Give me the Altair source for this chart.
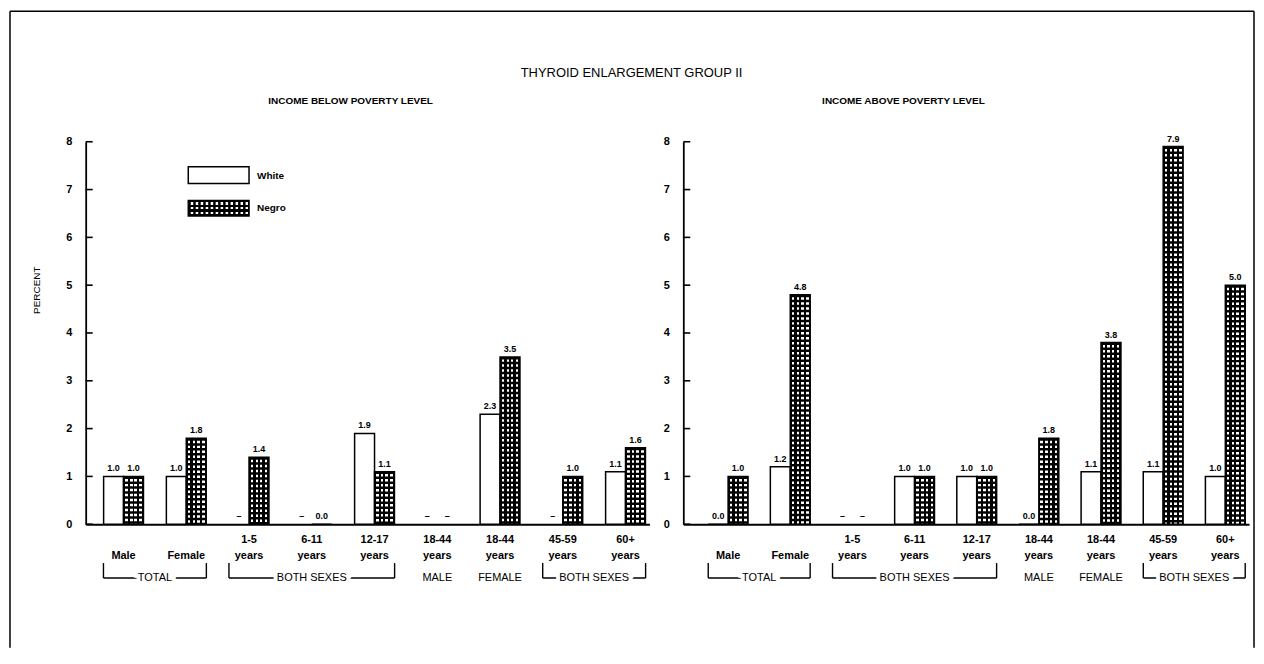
import altair as alt
import pandas as pd

FONT = "Liberation Sans"

# ---------------- data ----------------
categories = ["M", "F", "1-5", "6-11", "12-17", "18-44M", "18-44F", "45-59", "60+"]
label_top = ["", "", "1-5", "6-11", "12-17", "18-44", "18-44", "45-59", "60+"]
label_bottom = ["Male", "Female", "years", "years", "years", "years", "years", "years", "years"]
series = ["White", "Negro"]

below_white = [1.0, 1.0, None, None, 1.9, None, 2.3, None, 1.1]
below_negro = [1.0, 1.8, 1.4, 0.0, 1.1, None, 3.5, 1.0, 1.6]
above_white = [0.0, 1.2, None, 1.0, 1.0, 0.0, 1.1, 1.1, 1.0]
above_negro = [1.0, 4.8, None, 1.0, 1.0, 1.8, 3.8, 7.9, 5.0]

y_ticks = [0, 1, 2, 3, 4, 5, 6, 7, 8]

group_labels = ["TOTAL", "BOTH SEXES", "MALE", "FEMALE", "BOTH SEXES"]
group_first = [0, 2, 5, 6, 7]
group_last = [1, 4, 5, 6, 8]
group_bracket = [True, True, False, False, True]

main_title = "THYROID ENLARGEMENT GROUP II"
panel_titles = ["INCOME BELOW POVERTY LEVEL", "INCOME ABOVE POVERTY LEVEL"]
y_title = "PERCENT"

# ---------------- styling helpers ----------------
H = 384
BW = 40  # band width of a category pair


def stripe_stops(bounds, size):
    stops = []
    colors = ["black", "white"]
    prev = 0
    for i, b in enumerate(bounds + [size]):
        c = colors[i % 2]
        stops.append({"offset": prev / size, "color": c})
        stops.append({"offset": b / size, "color": c})
        prev = b
    return stops


bar_grad = {"gradient": "linear", "x1": 0, "x2": 1, "y1": 0, "y2": 0,
            "stops": stripe_stops([1.5, 4, 6.5, 9, 11, 13.5, 16, 18.5], 20)}
leg_grad = {"gradient": "linear", "x1": 0, "x2": 0, "y1": 0, "y2": 1,
            "stops": stripe_stops([1.5, 4, 6.5, 9, 11.5, 14], 15.5)}

label_expr = ""
for c, t, b in zip(categories, label_top, label_bottom):
    label_expr += f"datum.value == '{c}' ? ['{t}', '{b}'] : "
label_expr += "''"

xaxis = alt.Axis(title=None, labelExpr=label_expr, ticks=False, domainColor="black",
                 domainWidth=2, labelPadding=9, labelFont=FONT, labelFontSize=11,
                 labelFontWeight="bold", labelColor="black", labelLineHeight=16,
                 labelAngle=0, labelBaseline="top", grid=False)
yaxis = alt.Axis(title=None, values=y_ticks, ticks=False, domainColor="black",
                 domainWidth=1.8, labelPadding=14, labelFont=FONT, labelFontSize=11,
                 labelFontWeight="bold", labelColor="black", grid=False, format="d")
yscale = alt.Scale(domain=[0, 8], nice=False)

one = alt.Data(values=[{}])


def panel(white, negro, W, step, c0, subtitle, sub_x, left=True):
    n = len(categories)
    pi = 1 - BW / step
    po = (W / step - n + pi) / 2
    outer = 2 * po * step
    align = (c0 - BW / 2) / outer
    xscale = alt.Scale(domain=categories, paddingInner=pi, paddingOuter=po, align=align)

    rows = []
    for i, c in enumerate(categories):
        rows.append({"cat": c, "series": series[0], "value": white[i]})
        rows.append({"cat": c, "series": series[1], "value": negro[i]})
    df = pd.DataFrame(rows)

    base = alt.Chart(df).transform_calculate(
        label="isValid(datum.value) ? format(datum.value, '.1f') : '\u2013'",
        ypos="isValid(datum.value) ? datum.value : 0",
    ).encode(
        x=alt.X("cat:N", scale=xscale, sort=categories, axis=xaxis),
        xOffset=alt.XOffset("series:N", scale=alt.Scale(domain=series, paddingInner=0, paddingOuter=0),
                            sort=series),
    )
    yv = alt.Y("value:Q", scale=yscale, axis=yaxis)

    white_bars = base.transform_filter(f"datum.series == '{series[0]}'").mark_bar(
        fill="white", stroke="black", strokeWidth=1.5).encode(y=yv)
    negro_bars = base.transform_filter(f"datum.series == '{series[1]}'").mark_bar(
        fill=bar_grad, stroke="black", strokeWidth=1.5).encode(y=yv)
    dots = base.transform_filter(
        f"datum.series == '{series[1]}' && isValid(datum.value) && datum.value > 0").mark_rule(
        color="black", strokeWidth=20, strokeDash=[2.5, 2.5], strokeCap="butt").encode(
        y=yv, y2=alt.datum(0))
    labels = base.mark_text(baseline="bottom", dy=-3, fontSize=9, fontWeight="bold",
                            font=FONT, color="black").encode(
        y=alt.Y("ypos:Q", scale=yscale, axis=yaxis), text="label:N")
    ticks = alt.Chart(pd.DataFrame({"t": y_ticks})).mark_rule(
        color="black", strokeWidth=1.6).encode(
        y=alt.Y("t:Q", scale=yscale, axis=yaxis), x=alt.value(0), x2=alt.value(7))

    A = alt.layer(white_bars, negro_bars, dots, labels, ticks)

    # group brackets under the axis
    gdf = pd.DataFrame({"label": group_labels, "first": group_first,
                        "last": group_last, "bracket": group_bracket})
    qx = alt.Scale(domain=[-c0 / step, (W - c0) / step], nice=False, zero=False)
    g = alt.Chart(gdf).transform_calculate(
        lo="datum.first - 0.32", hi="datum.last + 0.32", mid="(datum.first + datum.last) / 2")
    gb = g.transform_filter("datum.bracket")
    hline = gb.mark_rule(color="black", strokeWidth=1.4).encode(
        x=alt.X("lo:Q", scale=qx, axis=None), x2="hi:Q", y=alt.value(438))
    vl = gb.mark_rule(color="black", strokeWidth=1.4).encode(
        x=alt.X("lo:Q", scale=qx, axis=None), y=alt.value(423), y2=alt.value(438))
    vr = gb.mark_rule(color="black", strokeWidth=1.4).encode(
        x=alt.X("hi:Q", scale=qx, axis=None), y=alt.value(423), y2=alt.value(438))
    halo = g.mark_text(fontSize=11, font=FONT, fill="white", stroke="white", strokeWidth=8,
                       baseline="middle").encode(
        x=alt.X("mid:Q", scale=qx, axis=None), y=alt.value(438), text="label:N")
    gtext = g.mark_text(fontSize=11, font=FONT, color="black", baseline="middle").encode(
        x=alt.X("mid:Q", scale=qx, axis=None), y=alt.value(438), text="label:N")

    sub = alt.Chart(one).mark_text(fontSize=10, fontWeight="bold", font=FONT, color="black").encode(
        x=alt.value(sub_x), y=alt.value(-41), text=alt.value(subtitle))

    B_layers = [hline, vl, vr, halo, gtext, sub]

    if left:
        fr = alt.Chart(one).mark_rule(color="black", strokeWidth=1.5)
        B_layers += [
            fr.encode(x=alt.value(-76), y=alt.value(-131), y2=alt.value(508)),
            fr.encode(x=alt.value(-76), x2=alt.value(1173), y=alt.value(-131)),
            fr.encode(x=alt.value(1173), y=alt.value(-131), y2=alt.value(508)),
            alt.Chart(one).mark_text(fontSize=13, font=FONT, color="black").encode(
                x=alt.value(548), y=alt.value(-69), text=alt.value(main_title)),
            alt.Chart(one).mark_text(fontSize=10, font=FONT, color="black", angle=270).encode(
                x=alt.value(-49), y=alt.value(149), text=alt.value(y_title)),
            # legend
            alt.Chart(one).mark_rect(fill="white", stroke="black", strokeWidth=1.5).encode(
                x=alt.value(103), x2=alt.value(164), y=alt.value(25), y2=alt.value(42)),
            alt.Chart(one).mark_rect(fill=leg_grad, stroke="black", strokeWidth=1.5).encode(
                x=alt.value(103), x2=alt.value(164), y=alt.value(59), y2=alt.value(74.5)),
            alt.Chart(one).mark_rule(color="black", strokeWidth=15.5, strokeDash=[2.5, 2.5],
                                     strokeCap="butt").encode(
                x=alt.value(103), x2=alt.value(164), y=alt.value(66.75)),
            alt.Chart(one).mark_text(fontSize=10, fontWeight="bold", font=FONT, color="black",
                                     align="left").encode(
                x=alt.value(172), y=alt.value(34), text=alt.value(series[0])),
            alt.Chart(one).mark_text(fontSize=10, fontWeight="bold", font=FONT, color="black",
                                     align="left").encode(
                x=alt.value(172), y=alt.value(67), text=alt.value(series[1])),
        ]
    B = alt.layer(*B_layers)
    return alt.layer(A, B).resolve_scale(x="independent").properties(width=W, height=H)


left = panel(below_white, below_negro, 566, 63, 38, panel_titles[0], 266, left=True)
right = panel(above_white, above_negro, 568, 62.4, 45, panel_titles[1], 221, left=False)

chart = alt.hconcat(left, right, spacing=34, bounds="flush").properties(
    padding={"left": 0, "top": 0, "right": 0, "bottom": 0},
    background="white",
).configure_view(stroke="transparent")

chart.save("out.html", embed_options={"renderer": "svg", "actions": False})
